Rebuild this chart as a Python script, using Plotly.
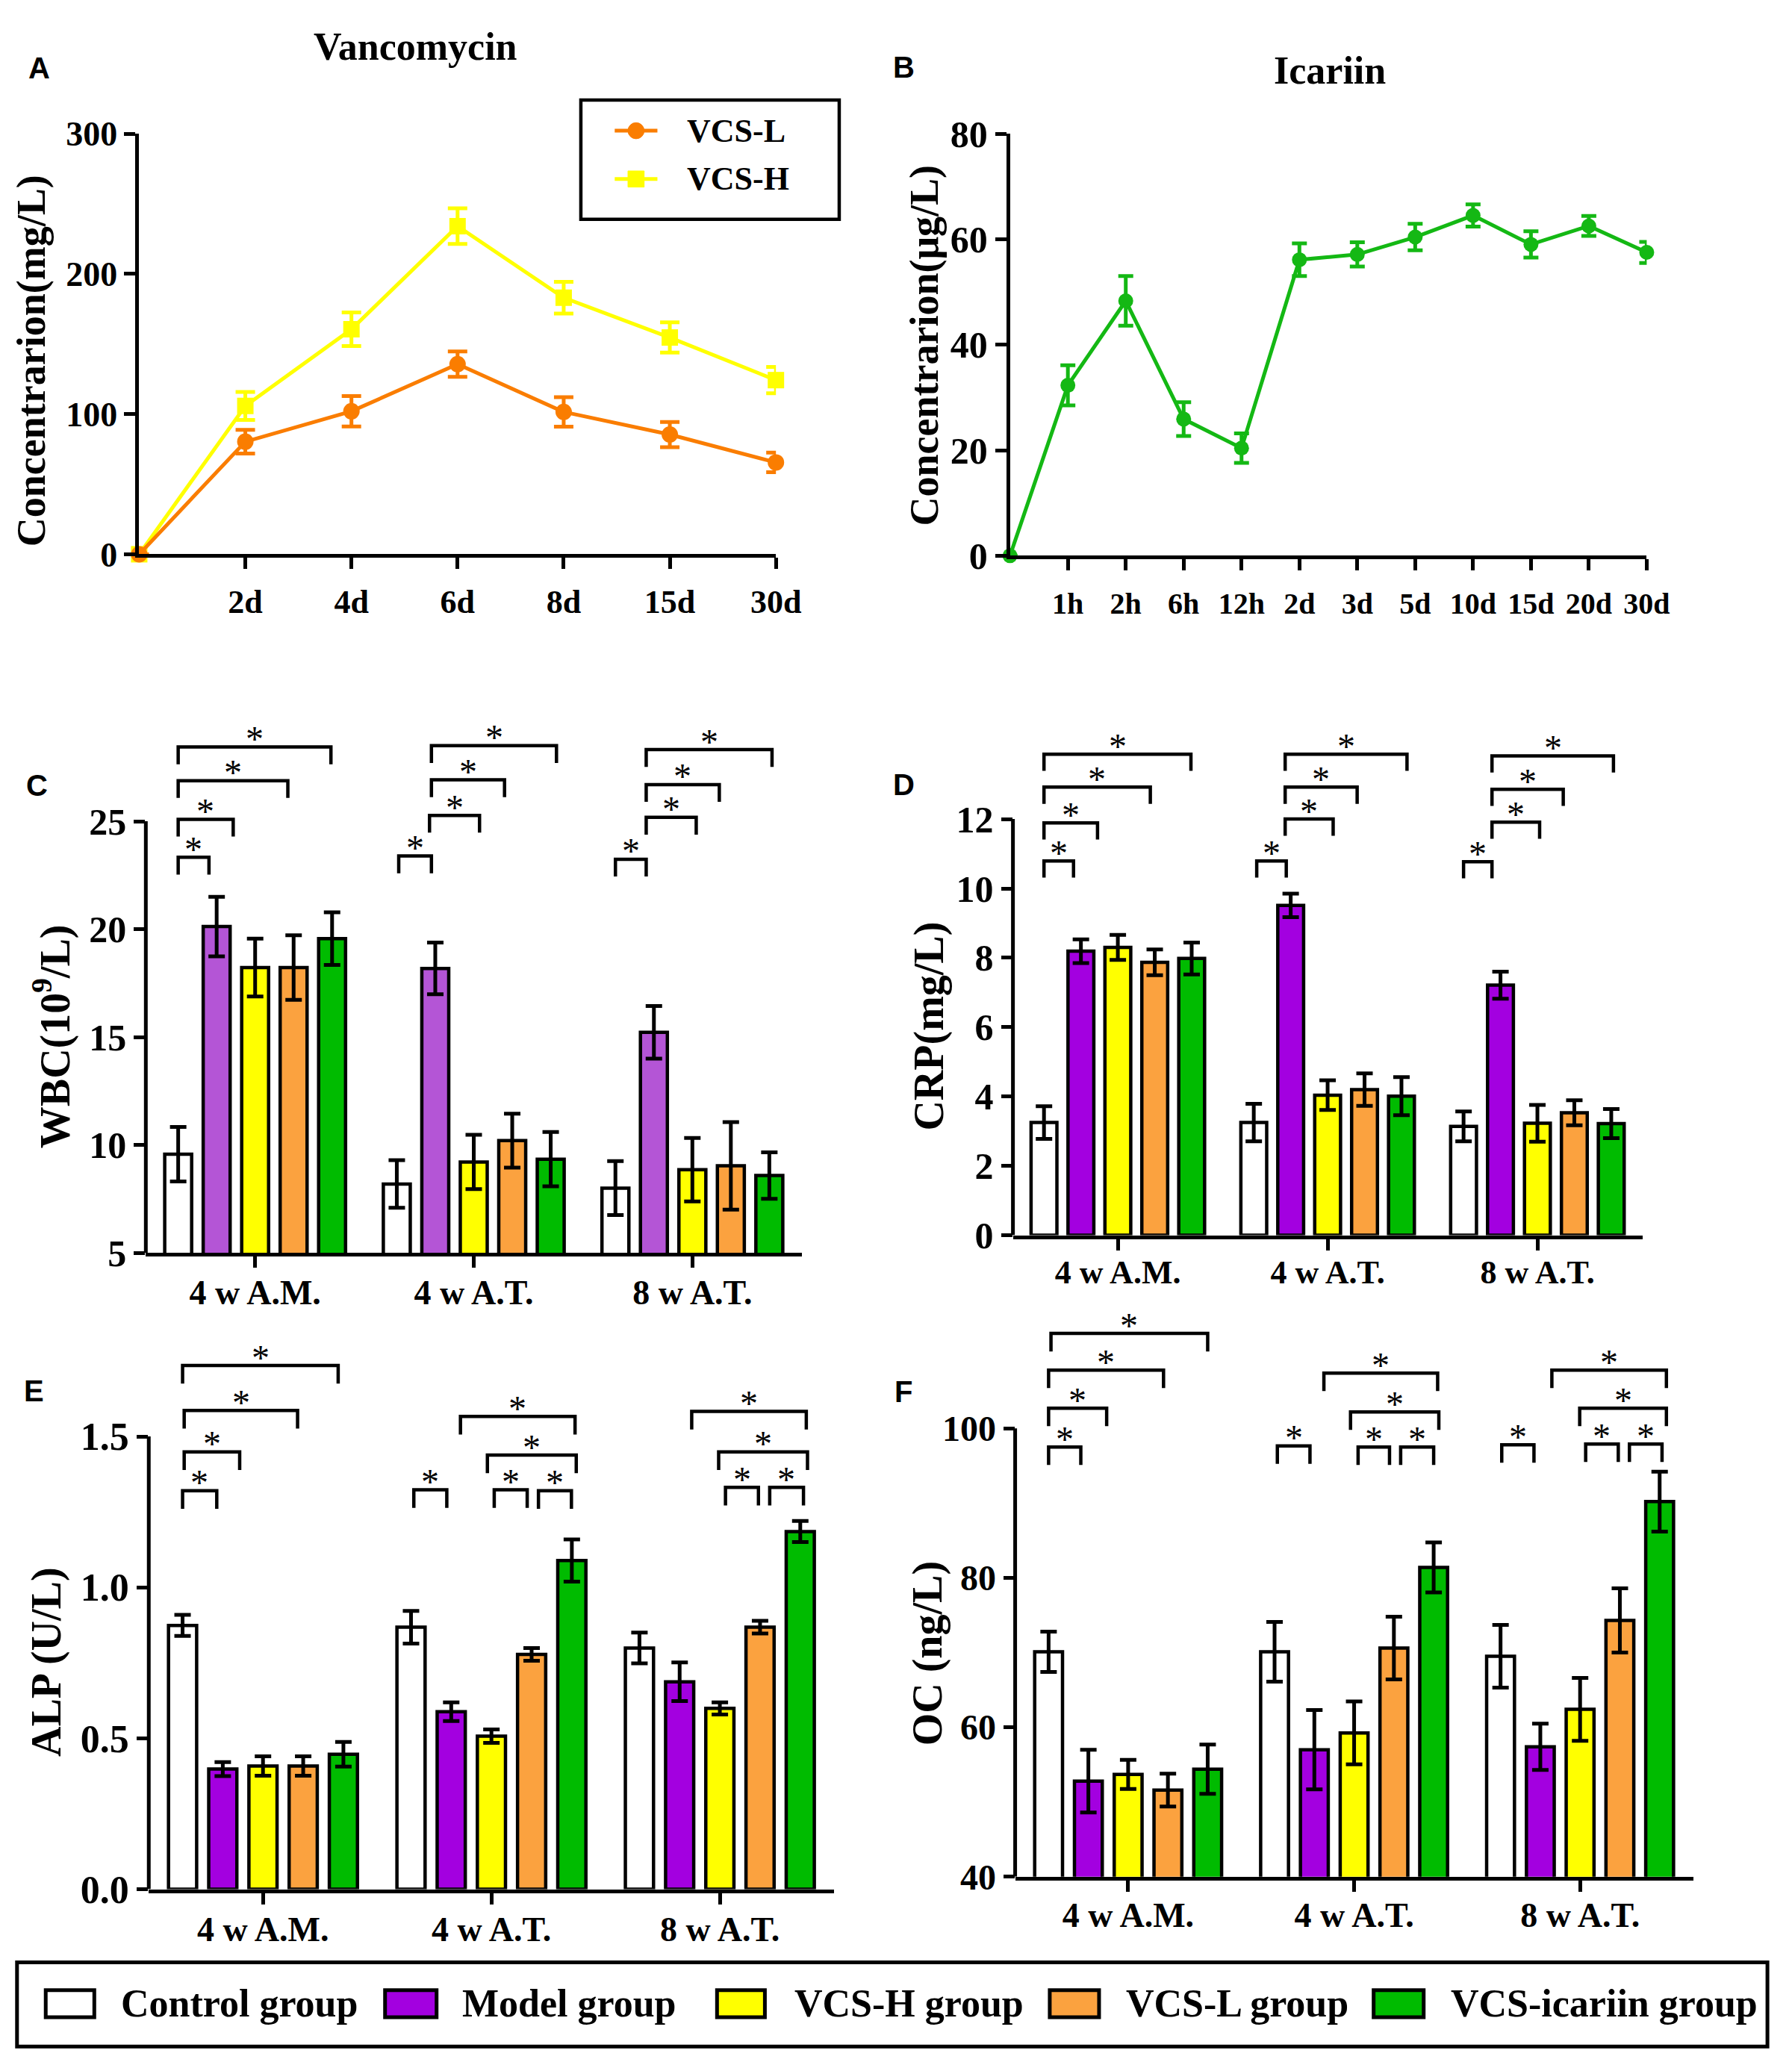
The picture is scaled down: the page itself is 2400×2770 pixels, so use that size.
import plotly.graph_objects as go

# ---------------- data ----------------
vanco_days = ["0", "2d", "4d", "6d", "8d", "15d", "30d"]
vcs_l_mean = [0, 80.3, 102.0, 135.6, 101.5, 85.4, 65.5]
vcs_l_sd = [0, 8.5, 10.8, 9.0, 10.5, 9.0, 7.0]
vcs_h_mean = [0, 105.8, 160.5, 234.0, 183.0, 154.6, 124.2]
vcs_h_sd = [0, 10.0, 12.0, 12.7, 11.3, 10.8, 9.4]

icariin_times = ["0", "1h", "2h", "6h", "12h", "2d", "3d", "5d", "10d", "15d", "20d", "30d"]
icariin_mean = [0, 32.3, 48.3, 25.9, 20.4, 56.1, 57.1, 60.4, 64.5, 59.0, 62.5, 57.5]
icariin_sd = [0, 3.8, 4.7, 3.2, 2.8, 3.1, 2.3, 2.5, 2.1, 2.5, 1.9, 2.0]

stages = ["4 w A.M.", "4 w A.T.", "8 w A.T."]
groups = ["Control group", "Model group", "VCS-H group", "VCS-L group", "VCS-icariin group"]

# rows follow `groups`, columns follow `stages`
wbc_mean = [[9.57, 8.19, 8.00], [20.12, 18.18, 15.22], [18.22, 9.21, 8.85],
            [18.22, 10.20, 9.03], [19.56, 9.34, 8.58]]
wbc_sd = [[1.26, 1.10, 1.25], [1.38, 1.20, 1.22], [1.34, 1.26, 1.47],
          [1.50, 1.25, 2.03], [1.22, 1.26, 1.08]]

crp_mean = [[3.25, 3.25, 3.14], [8.19, 9.51, 7.21], [8.30, 4.04, 3.23],
            [7.87, 4.20, 3.53], [7.98, 4.01, 3.22]]
crp_sd = [[0.47, 0.54, 0.43], [0.34, 0.34, 0.39], [0.36, 0.43, 0.53],
          [0.37, 0.47, 0.36], [0.46, 0.55, 0.42]]

alp_mean = [[0.874, 0.868, 0.799], [0.398, 0.588, 0.687], [0.408, 0.507, 0.599],
            [0.408, 0.778, 0.868], [0.447, 1.089, 1.185]]
alp_sd = [[0.035, 0.054, 0.051], [0.023, 0.031, 0.064], [0.032, 0.022, 0.020],
          [0.032, 0.021, 0.021], [0.041, 0.070, 0.035]]

oc_mean = [[70.1, 70.1, 69.5], [52.8, 57.0, 57.4], [53.7, 59.25, 62.4],
           [51.6, 70.6, 74.3], [54.4, 81.4, 90.2]]
oc_sd = [[2.7, 4.0, 4.2], [4.2, 5.3, 3.1], [1.95, 4.2, 4.2],
         [2.2, 4.2, 4.3], [3.3, 3.35, 4.0]]

# significance brackets: (stage, from bar, to bar, bracket height)
wbc_sig = [(0, 0, 0.8, 23.33), (0, 0, 1.43, 25.09), (0, 0, 2.85, 26.88), (0, 0, 3.97, 28.44),
           (1, 0.05, 0.9, 23.39), (1, 0.85, 2.15, 25.27), (1, 0.9, 2.8, 26.92), (1, 0.9, 4.15, 28.5),
           (2, 0, 0.8, 23.24), (2, 0.8, 2.1, 25.18), (2, 0.8, 2.7, 26.7), (2, 0.8, 4.07, 28.32)]
crp_sig = [(0, 0, 0.8, 10.79), (0, 0, 1.45, 11.89), (0, 0, 2.88, 12.92), (0, 0, 3.98, 13.87),
           (1, 0.08, 0.88, 10.79), (1, 0.85, 2.15, 12.0), (1, 0.85, 2.8, 12.92), (1, 0.85, 4.15, 13.87),
           (2, 0, 0.77, 10.77), (2, 0.77, 2.06, 11.91), (2, 0.77, 2.7, 12.86), (2, 0.77, 4.06, 13.82)]
alp_sig = [(0, 0, 0.85, 1.320), (0, 0.04, 1.42, 1.449), (0, 0.04, 2.86, 1.586), (0, 0, 3.87, 1.735),
           (1, 0.07, 0.89, 1.323), (1, 2.07, 2.89, 1.323), (1, 3.17, 3.99, 1.320),
           (1, 1.9, 4.11, 1.438), (1, 1.23, 4.08, 1.566),
           (2, 2.14, 2.96, 1.331), (2, 3.24, 4.08, 1.331), (2, 1.97, 4.18, 1.449), (2, 1.3, 4.15, 1.583)]
oc_sig = [(0, 0, 0.81, 97.5), (0, 0, 1.46, 102.7), (0, 0, 2.89, 107.8), (0, 0.06, 4.0, 112.7),
          (1, 0.07, 0.89, 97.65), (1, 2.1, 2.89, 97.5), (1, 3.17, 4.0, 97.5),
          (1, 1.91, 4.13, 102.2), (1, 1.24, 4.1, 107.4),
          (2, 0.03, 0.84, 97.8), (2, 2.14, 2.96, 97.9), (2, 3.24, 4.06, 97.9),
          (2, 1.99, 4.17, 102.7), (2, 1.29, 4.17, 107.8)]

# ---------------- layout helpers ----------------
W, H = 2400, 2770
SERIF = "Liberation Serif"
SANS = "Liberation Sans"
ORANGE = "#FA7D00"
YELLOW = "#FFFF00"
GREEN = "#14B814"
BAR_COLORS = ["white", "#A300E0", "#FFFF00", "#FBA23F", "#00BB00"]
BARGAP, GROUPGAP = 0.12, 0.3
SLOT = (1 - BARGAP) / len(groups)


def fx(px):
    return px / W


def fy(px):
    return 1 - px / H


def axis_style(size, **kw):
    d = dict(
        showline=True, linecolor="black", linewidth=5, mirror=False,
        ticks="outside", ticklen=15, tickwidth=5, tickcolor="black",
        showgrid=False, zeroline=False,
        tickfont=dict(family=SERIF, size=size, color="black", weight="bold"),
    )
    d.update(kw)
    return d


def text(x, y, s, size, family=SERIF, bold=True, angle=0):
    return dict(
        x=fx(x), y=fy(y), xref="paper", yref="paper", text=s, showarrow=False,
        textangle=angle, xanchor="center", yanchor="middle",
        font=dict(family=family, size=size, color="black", weight="bold" if bold else "normal"),
    )


fig = go.Figure()
annotations = []
shapes = []
layout_axes = {}

# ---------------- panel A ----------------
xa = list(range(len(vanco_days)))
for name, mean, sd, color, symbol in [
    ("VCS-H", vcs_h_mean, vcs_h_sd, YELLOW, "square"),
    ("VCS-L", vcs_l_mean, vcs_l_sd, ORANGE, "circle"),
]:
    fig.add_trace(go.Scatter(
        x=xa, y=mean, name=name, mode="lines+markers", cliponaxis=False,
        line=dict(color=color, width=5),
        marker=dict(color=color, size=22, symbol=symbol),
        error_y=dict(type="data", array=sd, color=color, thickness=5, width=13),
        xaxis="x", yaxis="y", showlegend=False,
    ))
layout_axes["xaxis"] = axis_style(
    44, domain=[fx(181), fx(1046)], range=[0, len(vanco_days) - 1], anchor="y",
    tickvals=xa[1:], ticktext=vanco_days[1:], ticklabelstandoff=6)
layout_axes["yaxis"] = axis_style(
    46, domain=[fy(722), fy(147)], range=[0, 300], dtick=100, anchor="x")
annotations.append(text(556, 28, "Vancomycin", 52))
annotations.append(text(34, 458, "Concentrarion(mg/L)", 54, angle=-90))
annotations.append(text(45, 57, "A", 40, family=SANS))

# legend box of panel A
shapes.append(dict(type="rect", xref="paper", yref="paper", x0=fx(781), x1=fx(1132),
                   y0=fy(264), y1=fy(101), line=dict(color="black", width=4.5)))
for name, color, shape, ypx in [("VCS-L", ORANGE, "circle", 143), ("VCS-H", YELLOW, "rect", 209)]:
    shapes.append(dict(type="line", xref="paper", yref="paper", x0=fx(827), x1=fx(885),
                       y0=fy(ypx), y1=fy(ypx), line=dict(color=color, width=5)))
    shapes.append(dict(type=shape, xref="paper", yref="paper", x0=fx(845), x1=fx(867),
                       y0=fy(ypx + 11), y1=fy(ypx - 11), fillcolor=color, line=dict(color=color, width=1)))
    a = text(923, ypx, name, 44)
    a["xanchor"] = "left"
    annotations.append(a)

# ---------------- panel B ----------------
xb = list(range(len(icariin_times)))
fig.add_trace(go.Scatter(
    x=xb, y=icariin_mean, name="Icariin", mode="lines+markers", cliponaxis=False,
    line=dict(color=GREEN, width=5), marker=dict(color=GREEN, size=20),
    error_y=dict(type="data", array=icariin_sd, color=GREEN, thickness=5, width=10),
    xaxis="x2", yaxis="y2", showlegend=False,
))
layout_axes["xaxis2"] = axis_style(
    40, domain=[fx(1364), fx(2229)], range=[0, len(icariin_times) - 1], anchor="y2",
    tickvals=xb[1:], ticktext=icariin_times[1:], ticklabelstandoff=10)
layout_axes["yaxis2"] = axis_style(
    50, domain=[fy(724), fy(147)], range=[0, 80], dtick=20, anchor="x2")
annotations.append(text(1798, 61, "Icariin", 52))
annotations.append(text(1248, 436, "Concentrarion(μg/L)", 54, angle=-90))
annotations.append(text(1220, 56, "B", 40, family=SANS))

# ---------------- bar panels ----------------
bar_panels = [
    dict(ax="3", means=wbc_mean, sds=wbc_sd, sig=wbc_sig, xd=(190, 1081), yd=(1087, 1677),
         yr=(5, 25), dtick=5, fmt="d", title="WBC(10<sup>9</sup>/L)", title_xy=(63, 1381),
         letter="C", letter_xy=(42, 1038), model="#B455D6", tick=50, cat=46, standoff=-6),
    dict(ax="4", means=crp_mean, sds=crp_sd, sig=crp_sig, xd=(1368, 2223), yd=(1084, 1653),
         yr=(0, 12), dtick=2, fmt="d", title="CRP(mg/L)", title_xy=(1254, 1367),
         letter="D", letter_xy=(1220, 1037), model=None, tick=50, cat=44, standoff=-8),
    dict(ax="5", means=alp_mean, sds=alp_sd, sig=alp_sig, xd=(194, 1125), yd=(1928, 2547),
         yr=(0, 1.5), dtick=0.5, fmt=".1f", title="ALP (U/L)", title_xy=(56, 2236),
         letter="E", letter_xy=(38, 1866), model=None, tick=52, cat=46, standoff=-6),
    dict(ax="6", means=oc_mean, sds=oc_sd, sig=oc_sig, xd=(1371, 2292), yd=(1917, 2530),
         yr=(40, 100), dtick=20, fmt="d", title="OC (ng/L)", title_xy=(1252, 2225),
         letter="F", letter_xy=(1219, 1867), model=None, tick=48, cat=46, standoff=-8),
]
HEADROOM = 0.3  # extra space above each bar panel for the significance brackets

xs_stage = list(range(len(stages)))
for p in bar_panels:
    ax = p["ax"]
    y0, y1 = p["yr"]
    for k, g in enumerate(groups):
        color = BAR_COLORS[k]
        if k == 1 and p["model"]:
            color = p["model"]
        fig.add_trace(go.Bar(
            x=xs_stage, y=p["means"][k], name=g, showlegend=False,
            marker=dict(color=color, line=dict(color="black", width=4.5)),
            error_y=dict(type="data", array=p["sds"][k], color="black", thickness=5, width=11),
            xaxis="x" + ax, yaxis="y" + ax,
        ))
    leg = 0.04 * (y1 - y0)
    bx, by = [], []
    for stage, i, j, top in p["sig"]:
        x0 = stage + (i - (len(groups) - 1) / 2) * SLOT
        x1 = stage + (j - (len(groups) - 1) / 2) * SLOT
        bx += [x0, x0, x1, x1, None]
        by += [top - leg, top, top, top - leg, None]
        annotations.append(dict(
            x=(x0 + x1) / 2, y=top, xref="x" + ax, yref="y" + ax, text="*", showarrow=False,
            xanchor="center", yanchor="middle", yshift=11,
            font=dict(family=SERIF, size=48, color="black"),
        ))
    fig.add_trace(go.Scatter(
        x=bx, y=by, mode="lines", showlegend=False, hoverinfo="skip",
        line=dict(color="black", width=4.5), xaxis="x" + ax, yaxis="y" + ax,
    ))
    top_px = p["yd"][0] - HEADROOM * (p["yd"][1] - p["yd"][0])
    n_ticks = int(round((y1 - y0) / p["dtick"]))
    layout_axes["xaxis" + ax] = axis_style(
        p["cat"], domain=[fx(p["xd"][0]), fx(p["xd"][1])], range=[-0.5, len(stages) - 0.5],
        anchor="y" + ax, tickvals=xs_stage, ticktext=stages, ticklabelstandoff=p["standoff"])
    layout_axes["yaxis" + ax] = axis_style(
        p["tick"], domain=[fy(p["yd"][1]), fy(top_px)],
        range=[y0, y1 + HEADROOM * (y1 - y0)], showline=False,
        tickvals=[y0 + t * p["dtick"] for t in range(n_ticks + 1)],
        tickformat=p["fmt"], anchor="x" + ax)
    # visible y axis line stops at the top tick, like the original
    shapes.append(dict(type="line", xref="x" + ax + " domain", yref="y" + ax,
                       x0=0, x1=0, y0=y0, y1=y1, line=dict(color="black", width=5)))
    annotations.append(text(*p["title_xy"], p["title"], 56, angle=-90))
    annotations.append(text(*p["letter_xy"], p["letter"], 40, family=SANS))

# ---------------- bottom legend ----------------
legend_box_x = [(54, 120), (515, 585), (966, 1031), (1418, 1485), (1858, 1926)]
legend_text_x = [154, 618, 1069, 1520, 1961]
shapes.append(dict(type="rect", xref="paper", yref="paper", x0=fx(15), x1=fx(2393),
                   y0=fy(2762), y1=fy(2647), line=dict(color="black", width=5)))
for k, g in enumerate(groups):
    x0, x1 = legend_box_x[k]
    shapes.append(dict(type="rect", xref="paper", yref="paper", x0=fx(x0), x1=fx(x1),
                       y0=fy(2722), y1=fy(2685), fillcolor=BAR_COLORS[k],
                       line=dict(color="black", width=5)))
    a = text(legend_text_x[k], 2703, g, 52)
    a["xanchor"] = "left"
    annotations.append(a)

fig.update_layout(
    width=W, height=H, margin=dict(l=0, r=0, t=0, b=0),
    paper_bgcolor="white", plot_bgcolor="white",
    barmode="group", bargap=BARGAP, bargroupgap=GROUPGAP,
    annotations=annotations, shapes=shapes, showlegend=False,
    **layout_axes,
)

fig.write_html("out.html")
